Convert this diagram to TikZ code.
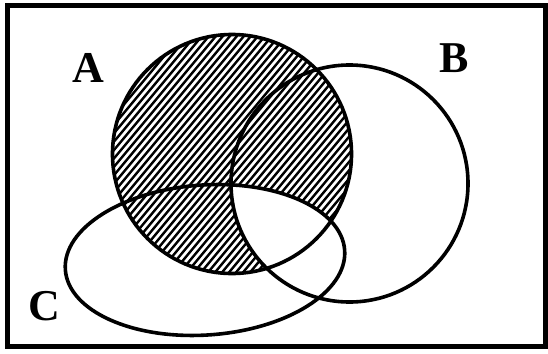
\documentclass[tikz,border=0pt]{standalone}
\usepackage{fontspec}
\setmainfont{Liberation Serif}
\usetikzlibrary{positioning}

\begin{document}
\begin{tikzpicture}[x=1pt, y=-1pt,
    frame/.style={draw, line width=5pt},
    setline/.style={draw, line width=3.6pt},
    hatch/.style={line width=2.4pt},
    setlabel/.style={font=\bfseries\fontsize{44}{44}\selectfont, inner sep=0pt}]
    \useasboundingbox (0,0) rectangle (548,353);
    \coordinate (cA) at (232,154);
    \coordinate (cB) at (349.5,183.5);
    \coordinate (cC) at (205,260);
    \draw[frame] (7,6) rectangle (545,346);
    % hatching of A
    \begin{scope}
        \clip (cA) circle (119.5);
        \foreach \k in {-200,-193,...,420}
            \draw[hatch] (\k,300) -- ++(250,-300);
    \end{scope}
    % A, B and C together stay white
    \begin{scope}
        \clip (cB) circle (118.5);
        \clip[rotate around={4:(cC)}] (cC) ellipse (140 and 75);
        \fill[white] (cA) circle (119.5);
    \end{scope}
    \draw[setline] (cA) circle (119.5);
    \draw[setline] (cB) circle (118.5);
    \draw[setline, rotate around={4:(cC)}] (cC) ellipse (140 and 75);
    \node[setlabel] (lA) at (88,68) {A};
    \node[setlabel] (lB) at (454,58) {B};
    \node[setlabel] (lC) at (44,306) {C};
\end{tikzpicture}
\end{document}
